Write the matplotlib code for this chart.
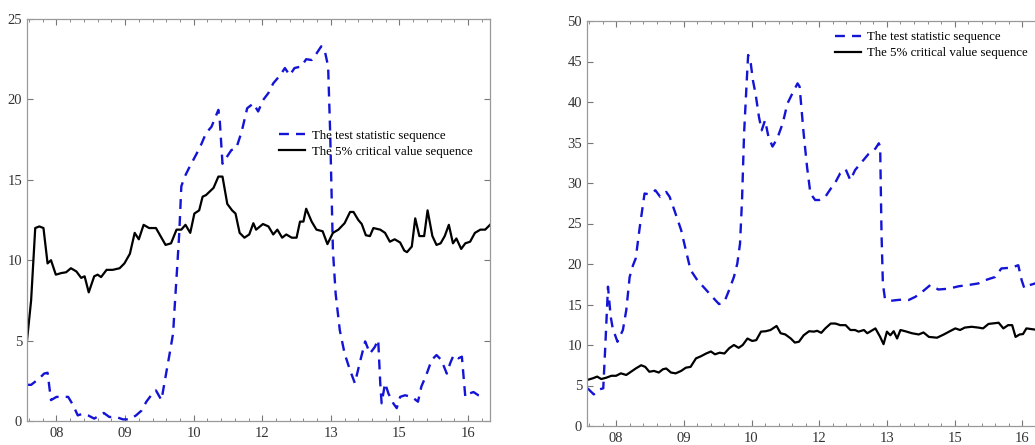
import matplotlib
matplotlib.use("Agg")
import matplotlib.pyplot as plt
from matplotlib.ticker import MultipleLocator

# x positions are in "tick units": 0 = '08', 1 = '09', ... 6 = '16'
tick_labels = ['08', '09', '10', '12', '13', '15', '16']

# ---- left panel ----
left_stat_x = [-0.43, -0.37, -0.31, -0.25, -0.18, -0.13, -0.08, 0.0, 0.07, 0.17, 0.24, 0.31,
               0.38, 0.46, 0.55, 0.63, 0.69, 0.77, 0.87, 0.97, 1.07, 1.16, 1.24, 1.31, 1.38,
               1.45, 1.53, 1.60, 1.65, 1.70, 1.72, 1.76, 1.79, 1.82, 1.87, 1.94, 2.04, 2.11,
               2.18, 2.26, 2.36, 2.38, 2.42, 2.48, 2.55, 2.62, 2.70, 2.78, 2.87, 2.94, 3.01,
               3.09, 3.16, 3.26, 3.33, 3.40, 3.47, 3.57, 3.64, 3.72, 3.79, 3.86, 3.91, 3.96,
               3.99, 4.03, 4.07, 4.13, 4.20, 4.28, 4.35, 4.42, 4.50, 4.57, 4.64, 4.69, 4.72,
               4.74, 4.79, 4.84, 4.91, 4.96, 5.01, 5.08, 5.18, 5.27, 5.32, 5.39, 5.47, 5.54,
               5.61, 5.69, 5.74, 5.79, 5.86, 5.91, 5.96, 6.01, 6.08, 6.15, 6.22]
left_stat_y = [2.25, 2.25, 2.45, 2.65, 2.95, 3.0, 1.3, 1.5, 1.5, 1.5, 1.0, 0.35,
               0.45, 0.35, 0.15, 0.35, 0.5, 0.25, 0.25, 0.1, 0.1, 0.35, 0.65, 1.2, 1.6,
               1.9, 1.3, 3.0, 4.2, 5.45, 6.9, 9.6, 11.7, 14.6, 15.2, 15.8, 16.6, 17.2,
               17.9, 18.3, 19.35, 18.7, 16.0, 16.4, 16.85, 16.95, 18.0, 19.45, 19.75, 19.25, 19.95,
               20.4, 21.0, 21.5, 21.95, 21.5, 21.95, 22.05, 22.5, 22.45, 22.85, 23.3, 23.05, 22.05,
               17.9, 10.6, 7.9, 5.65, 4.2, 3.15, 2.35, 3.6, 4.95, 4.2, 4.6, 5.05, 2.35,
               1.1, 2.35, 1.7, 1.1, 0.8, 1.5, 1.6, 1.5, 1.2, 2.15, 2.85, 3.8, 4.1,
               3.8, 2.95, 3.6, 4.1, 3.9, 4.0, 1.5, 1.7, 1.8, 1.6, 1.5]

left_crit_x = [-0.43, -0.37, -0.31, -0.25, -0.19, -0.13, -0.08, -0.01, 0.07, 0.14, 0.21, 0.29,
               0.36, 0.41, 0.47, 0.55, 0.60, 0.65, 0.73, 0.82, 0.92, 0.99, 1.07, 1.14, 1.20,
               1.27, 1.35, 1.45, 1.53, 1.59, 1.67, 1.75, 1.82, 1.88, 1.95, 2.01, 2.08, 2.13,
               2.18, 2.29, 2.36, 2.42, 2.49, 2.56, 2.61, 2.67, 2.74, 2.81, 2.87, 2.91, 3.01,
               3.09, 3.16, 3.22, 3.29, 3.35, 3.43, 3.50, 3.55, 3.60, 3.64, 3.72, 3.79, 3.88,
               3.95, 4.03, 4.11, 4.20, 4.28, 4.33, 4.40, 4.45, 4.51, 4.57, 4.62, 4.72, 4.79,
               4.86, 4.93, 5.01, 5.07, 5.11, 5.18, 5.23, 5.29, 5.36, 5.41, 5.48, 5.54, 5.60,
               5.66, 5.72, 5.78, 5.83, 5.90, 5.96, 6.03, 6.10, 6.18, 6.25, 6.32]
left_crit_y = [5.0, 7.5, 12.0, 12.1, 12.0, 9.8, 10.0, 9.1, 9.2, 9.25, 9.5, 9.3,
               8.9, 9.0, 8.0, 9.0, 9.1, 8.95, 9.4, 9.4, 9.5, 9.8, 10.4, 11.7, 11.3,
               12.2, 12.0, 12.0, 11.4, 10.95, 11.05, 11.9, 11.9, 12.2, 11.7, 12.9, 13.1, 13.95,
               14.05, 14.5, 15.2, 15.2, 13.5, 13.1, 12.9, 11.7, 11.4, 11.6, 12.3, 11.9, 12.25,
               12.1, 11.6, 11.9, 11.4, 11.6, 11.4, 11.4, 12.4, 12.4, 13.2, 12.4, 11.9, 11.8,
               11.0, 11.7, 11.9, 12.3, 13.0, 13.0, 12.5, 12.25, 11.55, 11.5, 12.0, 11.9, 11.7,
               11.15, 11.3, 11.1, 10.6, 10.5, 10.85, 12.6, 11.5, 11.5, 13.1, 11.5, 10.95, 11.05,
               11.5, 12.2, 11.05, 11.35, 10.7, 11.05, 11.15, 11.7, 11.9, 11.9, 12.2]

# ---- right panel ----
right_stat_x = [-0.42, -0.33, -0.26, -0.19, -0.16, -0.12, -0.08, -0.05, 0.02, 0.10, 0.15, 0.20,
                0.25, 0.29, 0.35, 0.42, 0.49, 0.58, 0.65, 0.74, 0.79, 0.86, 0.96, 1.03, 1.10,
                1.20, 1.33, 1.42, 1.52, 1.60, 1.67, 1.74, 1.79, 1.83, 1.86, 1.89, 1.93, 1.95,
                1.99, 2.02, 2.06, 2.11, 2.15, 2.20, 2.25, 2.31, 2.38, 2.46, 2.53, 2.60, 2.68,
                2.71, 2.77, 2.82, 2.87, 2.94, 3.00, 3.09, 3.17, 3.24, 3.31, 3.39, 3.46, 3.53,
                3.63, 3.73, 3.83, 3.88, 3.90, 3.92, 3.94, 3.97, 4.05, 4.15, 4.22, 4.32, 4.42,
                4.52, 4.64, 4.76, 4.91, 5.06, 5.20, 5.35, 5.45, 5.60, 5.69, 5.84, 5.94, 5.99,
                6.03, 6.11, 6.19, 6.35]
right_stat_y = [4.65, 3.9, 4.5, 4.65, 9.8, 17.2, 13.5, 12.05, 10.4, 11.85, 14.3, 18.4,
                19.85, 20.7, 24.6, 28.7, 28.6, 29.1, 28.3, 28.9, 28.3, 26.65, 24.2, 21.7, 19.25,
                18.0, 16.8, 15.95, 15.05, 15.35, 16.8, 18.4, 20.05, 22.5, 27.9, 36.1, 42.7, 45.8,
                44.7, 42.7, 41.0, 38.15, 36.5, 37.75, 35.7, 34.5, 35.5, 37.35, 39.8, 41.0, 42.3,
                41.9, 36.1, 32.0, 28.7, 27.9, 27.9, 28.3, 29.3, 30.1, 31.2, 31.7, 30.35, 31.6,
                32.6, 33.6, 34.25, 34.9, 34.5, 23.8, 17.6, 15.75, 15.45, 15.55, 15.6, 15.55, 15.95,
                16.55, 17.4, 16.85, 16.95, 17.25, 17.4, 17.6, 18.0, 18.4, 19.45, 19.55, 19.85, 18.0,
                17.0, 17.4, 17.6, 17.5]

right_crit_x = [-0.42, -0.34, -0.28, -0.22, -0.15, -0.07, 0.0, 0.07, 0.15, 0.22, 0.29, 0.37,
                0.43, 0.49, 0.56, 0.63, 0.69, 0.74, 0.81, 0.88, 0.96, 1.03, 1.10, 1.18, 1.25,
                1.33, 1.40, 1.46, 1.53, 1.60, 1.67, 1.74, 1.81, 1.87, 1.94, 2.01, 2.07, 2.14,
                2.21, 2.28, 2.37, 2.43, 2.50, 2.58, 2.64, 2.70, 2.77, 2.85, 2.92, 2.97, 3.03,
                3.09, 3.17, 3.24, 3.31, 3.39, 3.46, 3.53, 3.58, 3.66, 3.71, 3.76, 3.83, 3.90,
                3.95, 4.00, 4.05, 4.10, 4.15, 4.20, 4.27, 4.37, 4.47, 4.54, 4.62, 4.74, 4.84,
                4.93, 5.01, 5.08, 5.15, 5.25, 5.35, 5.42, 5.50, 5.65, 5.72, 5.79, 5.85, 5.90,
                5.96, 6.01, 6.06, 6.19, 6.35]
right_crit_y = [5.7, 5.9, 6.1, 5.8, 5.95, 6.2, 6.2, 6.5, 6.3, 6.7, 7.1, 7.5,
                7.3, 6.7, 6.8, 6.6, 7.0, 7.1, 6.6, 6.5, 6.8, 7.2, 7.3, 8.35, 8.6,
                8.95, 9.2, 8.85, 9.05, 8.95, 9.6, 10.0, 9.65, 10.0, 10.8, 10.5, 10.6, 11.65,
                11.7, 11.85, 12.35, 11.45, 11.3, 10.8, 10.3, 10.4, 11.2, 11.7, 11.65, 11.75, 11.5,
                12.05, 12.65, 12.65, 12.45, 12.45, 11.85, 11.85, 11.65, 11.85, 11.45, 11.7, 12.05, 11.0,
                10.1, 11.65, 11.2, 11.7, 10.8, 11.85, 11.7, 11.45, 11.3, 11.55, 11.0, 10.9, 11.3,
                11.7, 12.05, 11.85, 12.15, 12.25, 12.15, 12.05, 12.6, 12.75, 12.05, 12.45, 12.45, 11.0,
                11.3, 11.35, 12.05, 11.9, 11.9]

BLUE = '#1414d6'
DASH = (0, (4.2, 3.0))
plt.rcParams['font.family'] = ['Liberation Serif', 'DejaVu Serif']

W, H = 1035, 445
fig = plt.figure(figsize=(W / 100, H / 100), dpi=100)


def style_axes(ax, ymax, ystep):
    ax.set_xlim(-0.43, 6.32)
    ax.set_ylim(0, ymax)
    ax.set_xticks(range(7))
    ax.set_xticklabels(tick_labels)
    ax.xaxis.set_minor_locator(MultipleLocator(0.2))
    ax.yaxis.set_major_locator(MultipleLocator(ystep))
    ax.tick_params(which='both', direction='in', top=True, right=True,
                   colors='#777777', labelcolor='#333333', labelsize=10.5)
    ax.tick_params(which='major', length=4, width=0.8)
    ax.tick_params(which='minor', length=2, width=0.6)
    ax.tick_params(axis='x', pad=4)
    for s in ax.spines.values():
        s.set_color('#999999')
        s.set_linewidth(0.9)


def add_px_axes(x0, y0, x1, y1):
    return fig.add_axes([x0 / W, 1 - y1 / H, (x1 - x0) / W, (y1 - y0) / H])


def add_legend(ax, anchor):
    ax.legend(loc='upper left', bbox_to_anchor=anchor, frameon=False,
              fontsize=9.3, handlelength=2.0, handletextpad=0.5, labelspacing=0.3,
              borderaxespad=0, borderpad=0)


ax1 = add_px_axes(27, 19, 490, 421)
ax1.plot(left_stat_x, left_stat_y, color=BLUE, lw=1.7, linestyle=DASH,
         label='The test statistic sequence')
ax1.plot(left_crit_x, left_crit_y, color='black', lw=1.6,
         label='The 5% critical value sequence')
style_axes(ax1, 25, 5)
add_legend(ax1, (0.545, 0.725))

ax2 = add_px_axes(587, 21, 1044, 426)
ax2.plot(right_stat_x, right_stat_y, color=BLUE, lw=1.7, linestyle=DASH,
         label='The test statistic sequence')
ax2.plot(right_crit_x, right_crit_y, color='black', lw=1.6,
         label='The 5% critical value sequence')
style_axes(ax2, 50, 5)
add_legend(ax2, (0.543, 0.975))

fig.savefig('out.png', dpi=100)
